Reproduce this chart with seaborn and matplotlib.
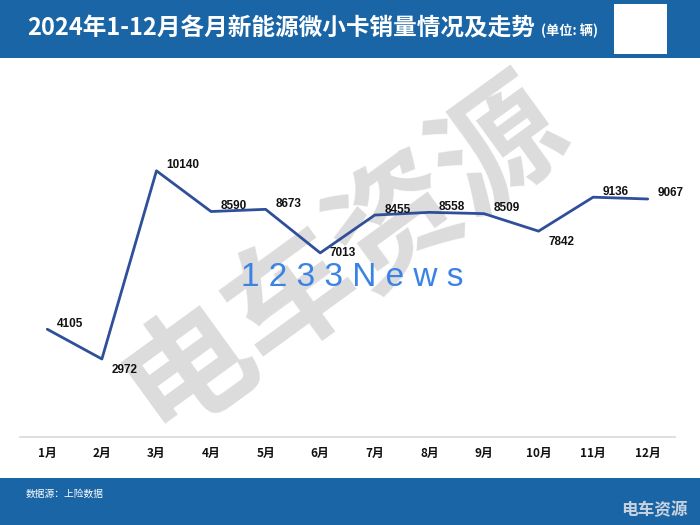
import pandas as pd
import matplotlib
matplotlib.use("Agg")
import matplotlib.pyplot as plt
from matplotlib.patches import Rectangle
import seaborn as sns

# data
months = ["1月", "2月", "3月", "4月", "5月", "6月", "7月", "8月", "9月", "10月", "11月", "12月"]
sales = [4105, 2972, 10140, 8590, 8673, 7013, 8455, 8558, 8509, 7842, 9136, 9067]
title = "2024年1-12月各月新能源微小卡销量情况及走势"
unit = "(单位: 辆)"
source = "数据源：上险数据"

df = pd.DataFrame({"month": months, "sales": sales})

sns.set_theme(style="white")
plt.rcParams['font.family'] = ['Liberation Sans', 'Noto Sans CJK SC', 'DejaVu Sans']
cjk = ['Noto Sans CJK SC', 'DejaVu Sans']
blue = "#1a65a6"

fig = plt.figure(figsize=(7, 5.25), dpi=100)
fig.patch.set_facecolor("white")

# header and footer bands
fig.patches.append(Rectangle((0, 1 - 58 / 525), 1, 58 / 525, transform=fig.transFigure,
                             facecolor=blue, edgecolor="none", zorder=0))
fig.patches.append(Rectangle((0, 0), 1, 47 / 525, transform=fig.transFigure,
                             facecolor=blue, edgecolor="none", zorder=0))
fig.text(27 / 700, 1 - 28 / 525, title, color="white", fontsize=17, fontweight="bold",
         family=cjk, va="center", ha="left")
fig.text(541 / 700, 1 - 31 / 525, unit, color="white", fontsize=9.5, fontweight="bold",
         family=cjk, va="center", ha="left")
# QR code placeholder
fig.patches.append(Rectangle((614 / 700, 1 - 54 / 525), 53 / 700, 50 / 525, transform=fig.transFigure,
                             facecolor="white", edgecolor="none", zorder=1))
fig.text(26 / 700, 31 / 525, source, color="white", fontsize=7, family=cjk, va="center")
fig.text(688 / 700, 6 / 525, "电车资源", color="#c9d3e0", fontsize=12, fontweight="bold",
         family=cjk, va="bottom", ha="right")

ax = fig.add_axes([20 / 700, 1 - 437 / 525, 655 / 700, 315 / 525])
ax.set_zorder(2)

# watermarks: grey one under the chart, blue one over it
fig.text(345 / 700, 1 - 255 / 525, "电车资源", color="#dcdcdc", fontsize=92, fontweight="bold",
         family=cjk, rotation=36, ha="center", va="center", zorder=1)
fig.text(352 / 700, 1 - 277 / 525, "1 2 3 3 N e w s", color="#3b82e6", fontsize=24,
         ha="center", va="center", zorder=5)

sns.lineplot(data=df, x="month", y="sales", ax=ax, color="#2f4f9a", linewidth=2, sort=False)

offsets = {1: (7, -8), 9: (7, -8), 5: (7, 0)}
for i, v in enumerate(sales):
    dx, dy = offsets.get(i, (7, 4))
    ax.annotate(str(v), (i, v), xytext=(dx, dy), textcoords="offset points",
                ha="left", va="center", fontsize=8.5, fontweight="bold", color="#111111")

ax.set_xlim(-0.5, 11.5)
ax.set_ylim(0, 12000)
ax.set_xlabel("")
ax.set_ylabel("")
ax.set_yticks([])
ax.tick_params(axis="x", length=0, pad=7)
for lab in ax.get_xticklabels():
    lab.set_fontfamily(cjk)
    lab.set_fontweight("bold")
    lab.set_fontsize(8.5)
    lab.set_color("#111111")
for s in ["top", "left", "right"]:
    ax.spines[s].set_visible(False)
ax.spines["bottom"].set_color("#d9d9d9")
ax.spines["bottom"].set_linewidth(1.2)
ax.patch.set_alpha(0)

fig.savefig("out.png", dpi=100)
